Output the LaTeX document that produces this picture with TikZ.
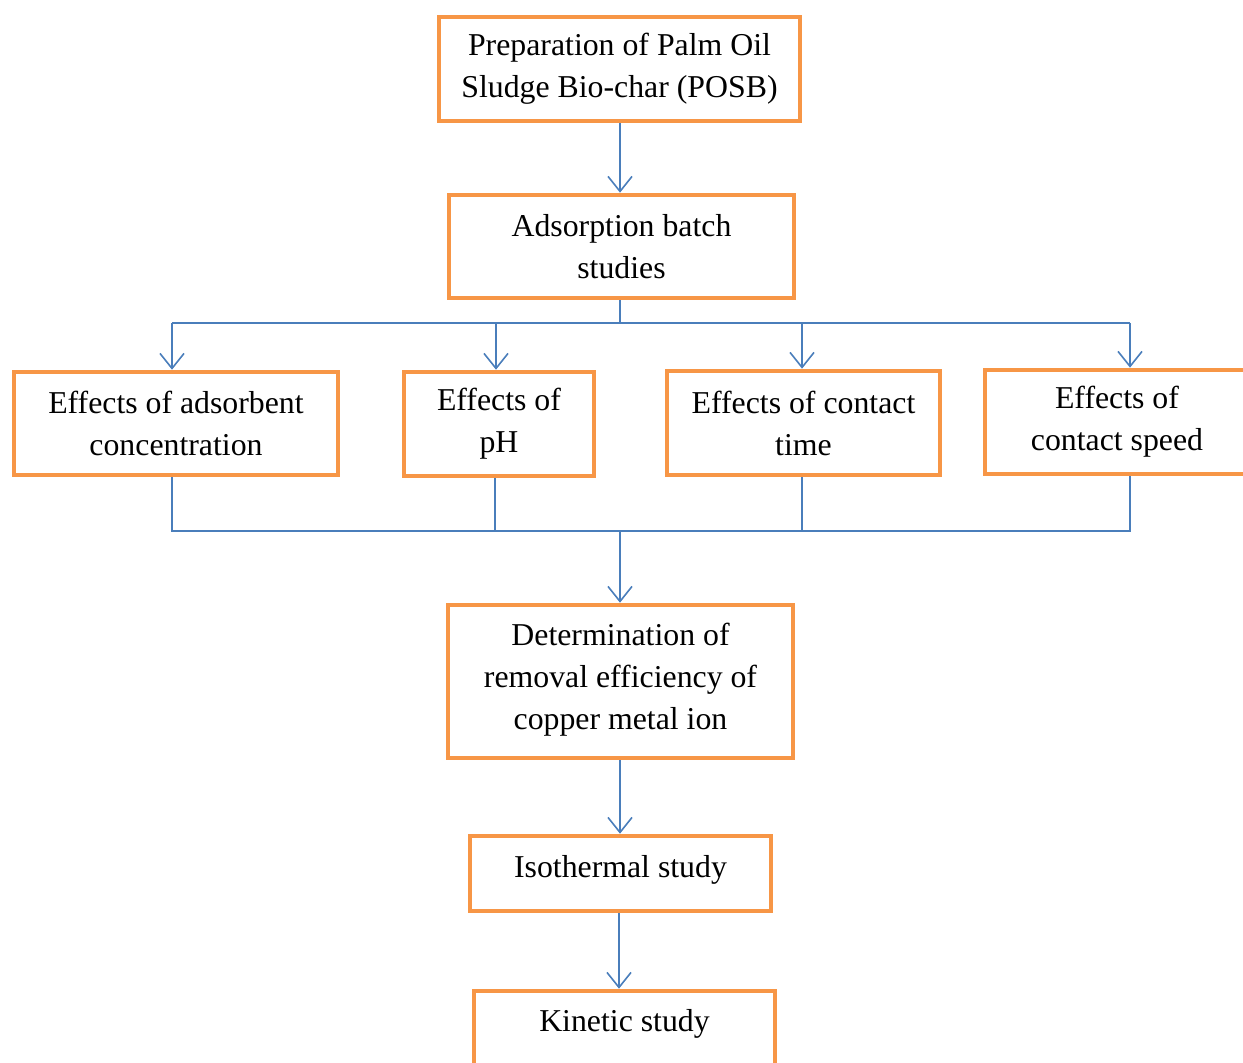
\documentclass[tikz,border=0pt]{standalone}
\usepackage{fontspec}
\setmainfont{Liberation Serif}
\usetikzlibrary{arrows.meta}
\definecolor{boxorange}{HTML}{F79646}
\definecolor{lineblue}{HTML}{4A7EBB}
\tikzset{
  stepbox/.style={draw=boxorange, line width=2.3pt, align=center, inner sep=0pt,
    font=\fontsize{15.9}{21}\selectfont},
  flow/.style={draw=lineblue, line width=0.8pt},
  arr/.style={flow, -{Straight Barb[length=7.5pt,width=12pt]}}
}
\begin{document}
\begin{tikzpicture}[x=0.5pt,y=-0.5pt]
	   \clip (0,0) rectangle (1243,1063);
	   % boxes
	   \node[stepbox, minimum width=180.5pt, minimum height=52pt] (prep) at (619.5,69) {Preparation of Palm Oil\\Sludge Bio-char (POSB)};
	   \node[stepbox, minimum width=172.5pt, minimum height=51.5pt] (batch) at (621.5,246.5) {Adsorption batch\\studies};
	   \node[stepbox, minimum width=162pt, minimum height=51.5pt] (conc) at (176,423.5) {Effects of adsorbent\\concentration};
	   \node[stepbox, minimum width=95pt, minimum height=52pt] (ph) at (499,424) {Effects of\\pH};
	   \node[stepbox, minimum width=136.5pt, minimum height=52pt] (time) at (803.5,423) {Effects of contact\\time};
	   \node[stepbox, minimum width=132pt, minimum height=52pt] (speed) at (1117,422) {Effects of\\contact speed};
	   \node[stepbox, minimum width=172.5pt, minimum height=76.5pt, text depth=5pt] (removal) at (620.5,681.5) {Determination of\\removal efficiency of\\copper metal ion};
	   \node[stepbox, minimum width=150.5pt, minimum height=37.5pt, text depth=7pt] (iso) at (620.5,873.5) {Isothermal study};
	   \node[stepbox, minimum width=150.5pt, minimum height=37.5pt, text depth=8pt] (kin) at (624.5,1028.5) {Kinetic study};
	   % split
	   \coordinate (split) at (620,323);
	   \coordinate (t1) at (172,323);
	   \coordinate (t2) at (496,323);
	   \coordinate (t3) at (802,323);
	   \coordinate (t4) at (1130,323);
	   \draw[flow] (batch.south -| split) -- (split);
	   \draw[flow] (t1) -- (t4);
	   \draw[arr] (t1) -- (t1 |- conc.north);
	   \draw[arr] (t2) -- (t2 |- ph.north);
	   \draw[arr] (t3) -- (t3 |- time.north);
	   \draw[arr] (t4) -- (t4 |- speed.north);
	   % merge
	   \coordinate (merge) at (620,531);
	   \coordinate (b1) at (172,531);
	   \coordinate (b2) at (495,531);
	   \coordinate (b3) at (802,531);
	   \coordinate (b4) at (1130,531);
	   \draw[flow] (b1 |- conc.south) -- (b1) -- (b4) -- (b4 |- speed.south);
	   \draw[flow] (b2 |- ph.south) -- (b2);
	   \draw[flow] (b3 |- time.south) -- (b3);
	   \draw[arr] (merge) -- (merge |- removal.north);
	   % chain
	   \draw[arr] (prep.south -| split) -- (split |- batch.north);
	   \draw[arr] (removal.south -| merge) -- (merge |- iso.north);
	   \draw[arr] (619,0 |- iso.south) -- (619,0 |- kin.north);
\end{tikzpicture}
\end{document}
